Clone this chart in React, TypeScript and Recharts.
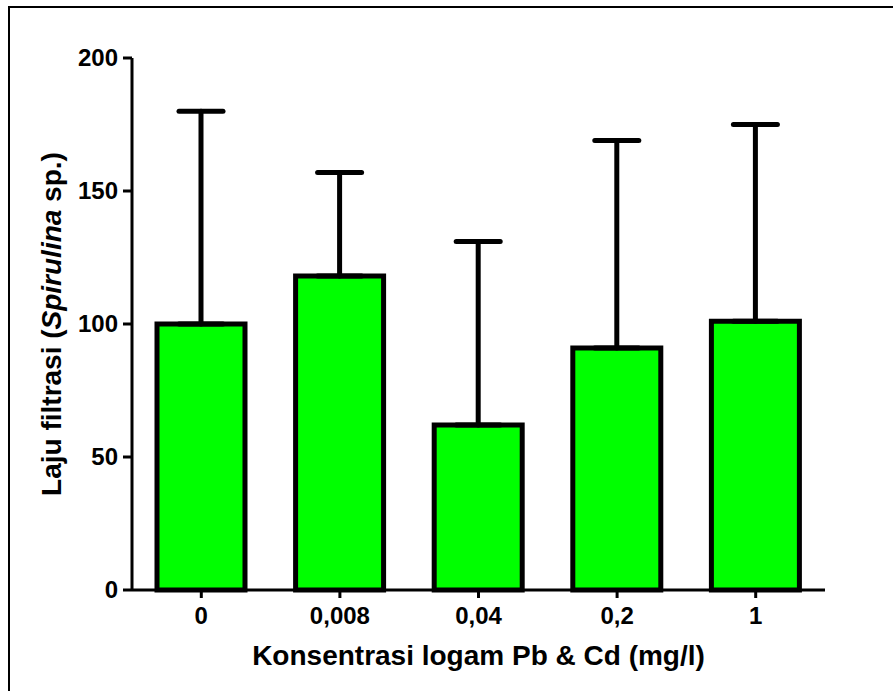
import { BarChart, Bar, XAxis, YAxis, ErrorBar } from 'recharts';

// Konsentrasi logam (mg/l)
const categories = ['0', '0,008', '0,04', '0,2', '1'];
// Laju filtrasi rata-rata
const means = [100, 118, 62, 91, 101];
// simpangan baku (hanya ke atas)
const sdUpper = [80, 39, 69, 78, 74];
const yTicks = [0, 50, 100, 150, 200];

const data = categories.map((c, i) => ({
  name: c,
  value: means[i],
  err: [0, sdUpper[i]],
}));

const FONT = '"Liberation Sans", Arial, sans-serif';

const XTick = ({ x, y, payload }: any) => (
  <text x={x} y={y + 17} textAnchor="middle" fontFamily={FONT} fontWeight="bold" fontSize={24} fill="#000">
    {payload.value}
  </text>
);

const YTick = ({ x, y, payload }: any) => (
  <text x={x} y={y + 8} textAnchor="end" fontFamily={FONT} fontWeight="bold" fontSize={24} fill="#000">
    {payload.value}
  </text>
);

const YLabel = () => (
  <text
    x={61}
    y={324}
    transform="rotate(-90, 61, 324)"
    textAnchor="middle"
    fontFamily={FONT}
    fontWeight="bold"
    fontSize={28}
    fill="#000"
  >
    Laju filtrasi (<tspan fontStyle="italic">Spirulina</tspan> sp.)
  </text>
);

const XLabel = () => (
  <text x={478.5} y={665} textAnchor="middle" fontFamily={FONT} fontWeight="bold" fontSize={28} fill="#000">
    Konsentrasi logam Pb &amp; Cd (mg/l)
  </text>
);

export default function App() {
  return (
    <div style={{ position: 'absolute', left: 0, top: 0, width: 893, height: 691, background: '#fff', overflow: 'hidden' }}>
      <div
        style={{
          position: 'absolute',
          left: 8,
          top: 6,
          width: 900,
          height: 700,
          borderLeft: '2px solid #000',
          borderTop: '2px solid #000',
        }}
      />
      <div style={{ position: 'absolute', left: 0, top: 0 }}>
        <BarChart
          width={893}
          height={691}
          data={data}
          margin={{ top: 58, right: 68, bottom: 41, left: 72 }}
          barSize={88}
        >
          <XAxis
            dataKey="name"
            height={60}
            stroke="#000"
            strokeWidth={3}
            tickSize={8}
            tickMargin={9}
            tickLine={{ stroke: '#000', strokeWidth: 3 }}
            tick={<XTick />}
            label={<XLabel />}
          />
          <YAxis
            width={60}
            domain={[0, 200]}
            ticks={yTicks}
            stroke="#000"
            strokeWidth={3}
            tickSize={9}
            tickMargin={5}
            tickLine={{ stroke: '#000', strokeWidth: 3 }}
            tick={<YTick />}
            label={<YLabel />}
          />
          <Bar dataKey="value" fill="#00ff00" stroke="#000" strokeWidth={5} isAnimationActive={false}>
            <ErrorBar dataKey="err" width={22} stroke="#000" strokeWidth={5} strokeLinecap="round" direction="y" />
          </Bar>
        </BarChart>
      </div>
    </div>
  );
}
